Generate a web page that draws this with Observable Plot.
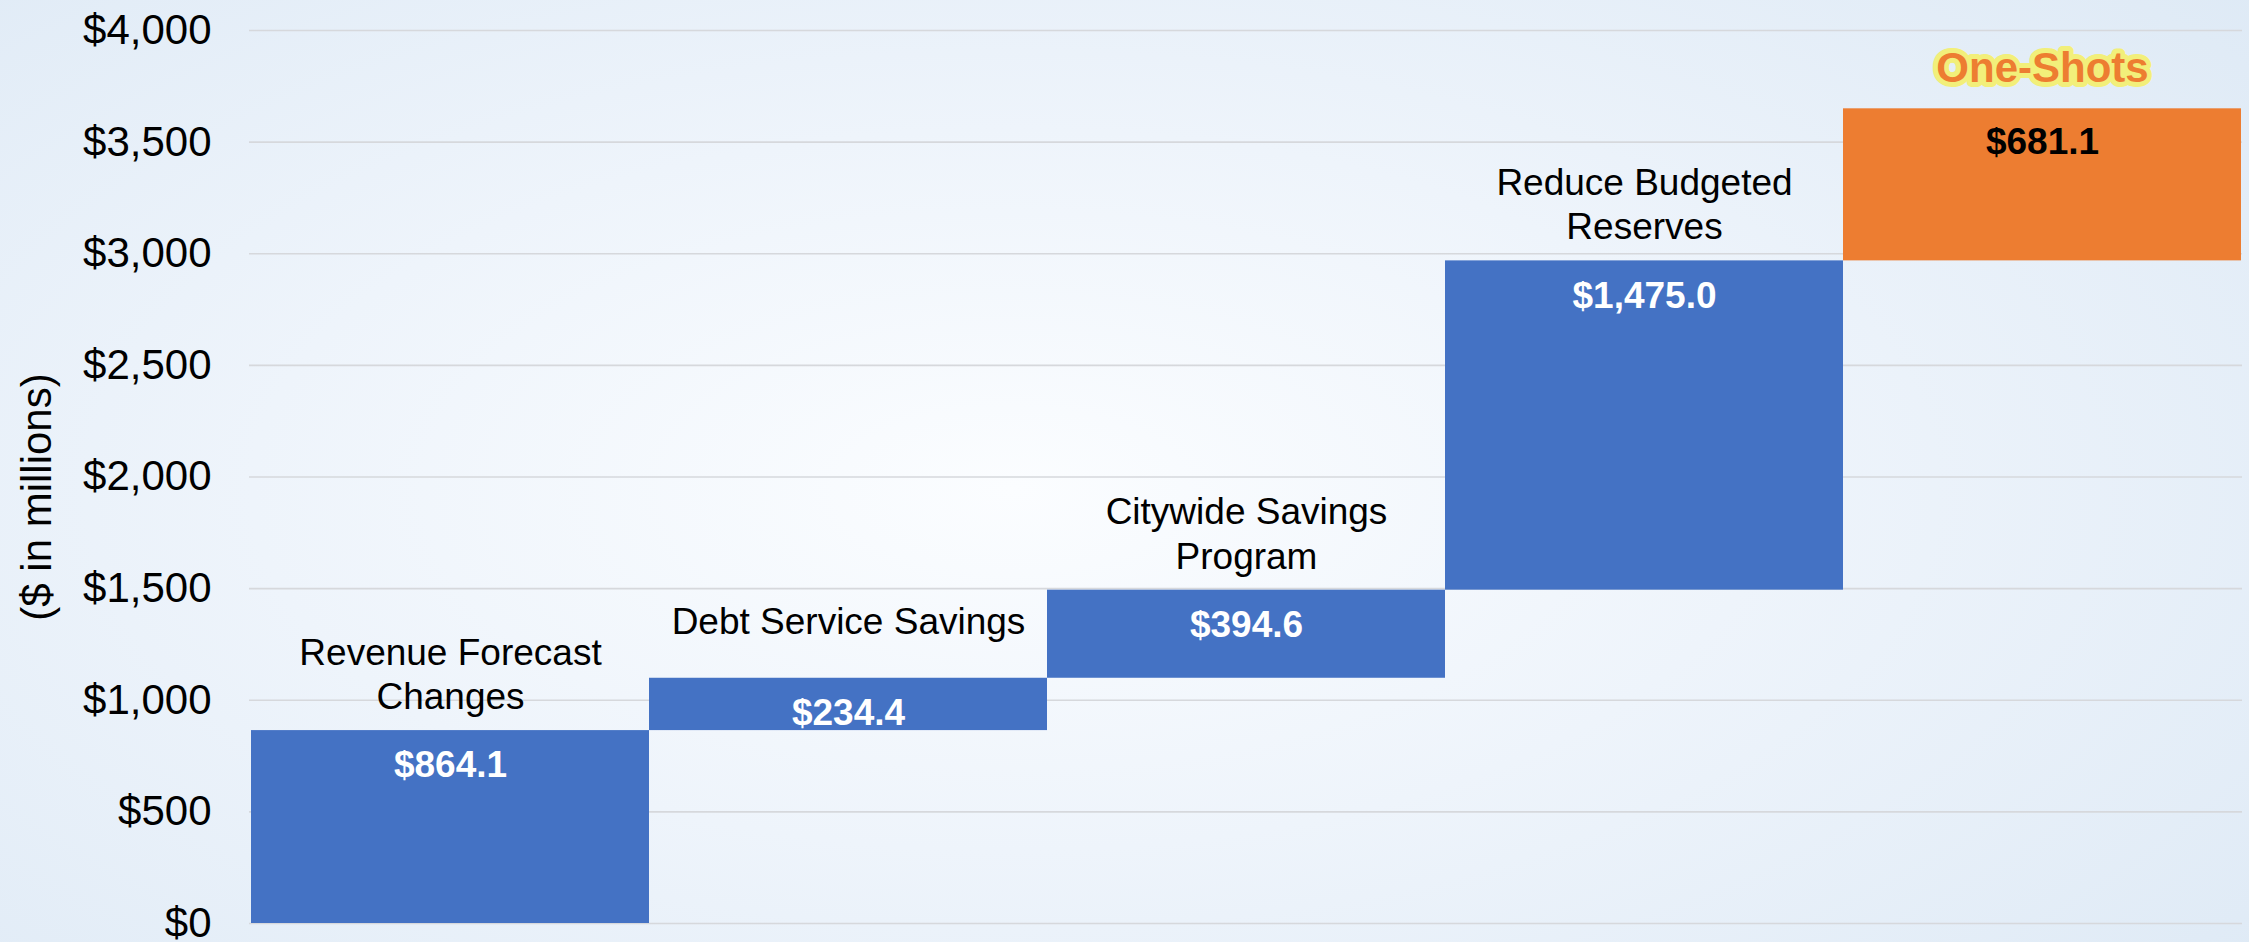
<!DOCTYPE html>
<html>
<head>
<meta charset="utf-8">
<script src="https://cdn.jsdelivr.net/npm/d3@7"></script>
<script src="https://cdn.jsdelivr.net/npm/@observablehq/plot@0.6"></script>
<style>
  html, body { margin: 0; padding: 0; }
  body {
    width: 2249px; height: 942px; overflow: hidden;
    background: radial-gradient(ellipse 75% 85% at 45% 52%, #fbfdff 0%, #eef4fb 45%, #dde9f5 100%);
    font-family: "Liberation Sans", Arial, sans-serif;
  }
  #chart svg { display: block; background: transparent; }
</style>
</head>
<body>
<div id="chart"></div>
<script>
// ---- data ----
const categories = ["Revenue Forecast\nChanges", "Debt Service Savings", "Citywide Savings\nProgram", "Reduce Budgeted\nReserves", "One-Shots"];
const values = [864.1, 234.4, 394.6, 1475.0, 681.1];
const kinds = ["recurring", "recurring", "recurring", "recurring", "one-shot"];
const yTicks = [0, 500, 1000, 1500, 2000, 2500, 3000, 3500, 4000];
const yLabel = "($ in millions)";

// ---- build waterfall table ----
const ends = d3.cumsum(values);
const rows = categories.map((c, i) => ({
  cat: c,
  value: values[i],
  kind: kinds[i],
  y1: ends[i] - values[i],
  y2: ends[i]
}));
const recurring = rows.filter(d => d.kind === "recurring");
const oneShot = rows.filter(d => d.kind === "one-shot");
const fmt = v => "$" + d3.format(",.1f")(v);

const font = "Liberation Sans, Arial, sans-serif";

const chart = Plot.plot({
  width: 2249,
  height: 942,
  marginLeft: 249,
  marginRight: 7,
  marginTop: 30,
  marginBottom: 19,
  style: { background: "transparent", fontFamily: font, color: "#000" },
  x: { domain: categories, padding: 0, axis: null },
  y: { domain: [0, 4000], ticks: yTicks, tickFormat: d3.format("$,"), label: null },
  marks: [
    Plot.gridY(yTicks, { stroke: "#d6d8dc", strokeOpacity: 1, strokeWidth: 1.6 }),
    Plot.axisY(yTicks, { tickSize: 0, tickPadding: 38, fontSize: 42, label: null, tickFormat: d3.format("$,"), fill: "#000" }),
    Plot.text([yLabel], { frameAnchor: "left", textAnchor: "middle", rotate: -90, dx: -212, dy: 20, fontSize: 42, fill: "#000" }),
    Plot.barY(rows, { x: "cat", y1: "y1", y2: "y2", fill: d => d.kind === "recurring" ? "#4472C4" : "#ED7D31", inset: 0 }),
    // category labels above recurring bars
    Plot.text(recurring, { x: "cat", y: "y2", text: "cat", dy: -58, lineAnchor: "middle", lineHeight: 1.2, fontSize: 37, fill: "#000" }),
    // value labels
    Plot.text(recurring, { x: "cat", y: "y2", text: d => fmt(d.value), dy: 35, lineAnchor: "middle", fontSize: 37, fontWeight: "bold", fill: "#ffffff" }),
    Plot.text(oneShot, { x: "cat", y: "y2", text: d => fmt(d.value), dy: 33, lineAnchor: "middle", fontSize: 37, fontWeight: "bold", fill: "#000000" }),
    // One-Shots glow + text
    Plot.text(oneShot, { x: "cat", y: "y2", text: "cat", dy: -40, lineAnchor: "middle", fontSize: 42, fontWeight: "bold", fill: "#f2ef7a", stroke: "#f2ef7a", strokeWidth: 10, strokeLinejoin: "round", ariaLabel: "glow" }),
    Plot.text(oneShot, { x: "cat", y: "y2", text: "cat", dy: -40, lineAnchor: "middle", fontSize: 42, fontWeight: "bold", fill: "#ED7D31" })
  ]
});

d3.select(chart).selectAll('g[aria-label="glow"]').style("filter", "blur(3px)").style("opacity", 0.9);
document.getElementById("chart").appendChild(chart);
</script>
</body>
</html>
